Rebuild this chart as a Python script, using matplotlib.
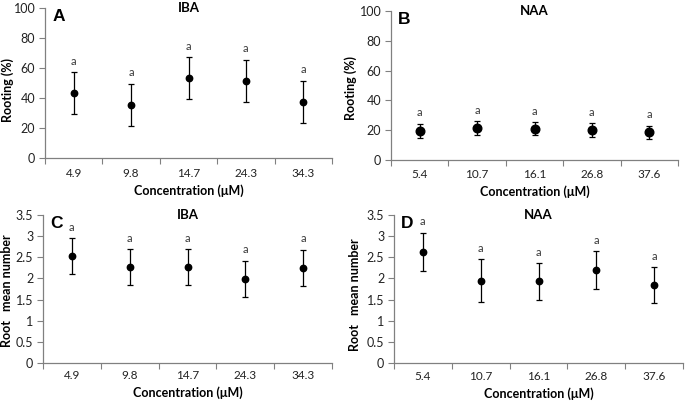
import matplotlib
matplotlib.use("Agg")
import matplotlib.pyplot as plt
import numpy as np

plt.rcParams['font.family'] = ['Lato', 'DejaVu Sans']

iba_conc = ["4.9", "9.8", "14.7", "24.3", "34.3"]
naa_conc = ["5.4", "10.7", "16.1", "26.8", "37.6"]

rooting_iba = [43, 35.5, 53, 51.5, 37.5]
rooting_iba_err = [14, 14, 14, 14, 14]
rooting_naa = [19.7, 21.5, 21, 20, 18.5]
rooting_naa_err = [4.7, 4.5, 4.5, 4.5, 4.5]

number_iba = [2.53, 2.27, 2.27, 1.99, 2.25]
number_iba_err = [0.43, 0.42, 0.42, 0.43, 0.43]
number_naa = [2.63, 1.95, 1.93, 2.20, 1.84]
number_naa_err = [0.45, 0.50, 0.43, 0.44, 0.43]

letters = ["a", "a", "a", "a", "a"]

W, H = 685, 403
fig = plt.figure(figsize=(W / 100, H / 100), dpi=100)

def px(l, r, t, b):
    return [l / W, 1 - b / H, (r - l) / W, (b - t) / H]

panels = [
    dict(rect=px(45, 332, 8, 158), cats=iba_conc, y=rooting_iba, e=rooting_iba_err,
         ylim=(0, 100), yt=np.arange(0, 101, 20), yl="Rooting (%)", title="IBA", tag="A",
         ms=4.6, xl="Concentration (\u03bcM)", ylx=-0.108, yly=0.45, xpad=7),
    dict(rect=px(391, 678, 11, 160), cats=naa_conc, y=rooting_naa, e=rooting_naa_err,
         ylim=(0, 100), yt=np.arange(0, 101, 20), yl="Rooting (%)", title="NAA", tag="B",
         ms=6.2, xl="Concentration (\u03bcM)", ylx=-0.118, yly=0.48, xpad=6.5),
    dict(rect=px(43, 332, 215, 363), cats=iba_conc, y=number_iba, e=number_iba_err,
         ylim=(0, 3.5), yt=np.arange(0, 3.51, 0.5), yl="Root   mean number", title="IBA", tag="C",
         ms=4.6, xl="Concentration (\u03bcM)", ylx=-0.104, yly=0.49, xpad=5),
    dict(rect=px(394, 683, 215, 363), cats=naa_conc, y=number_naa, e=number_naa_err,
         ylim=(0, 3.5), yt=np.arange(0, 3.51, 0.5), yl="Root   mean number", title="NAA", tag="D",
         ms=4.6, xl="Concentration (\u03bcM)", ylx=-0.114, yly=0.46, xpad=5.5),
]

spine_col = "#808080"
for p in panels:
    ax = fig.add_axes(p["rect"])
    x = np.arange(len(p["cats"]))
    ax.errorbar(x, p["y"], yerr=p["e"], fmt="o", color="black", ms=p["ms"],
                ecolor="black", elinewidth=0.9, capsize=2.4, capthick=0.9)
    for xi, yi, ei, lt in zip(x, p["y"], p["e"], letters):
        ax.annotate(lt, (xi, yi + ei), xytext=(0, 3.8), textcoords="offset points",
                    ha="center", va="bottom", fontsize=8, color="#3a3a3a")
    ax.set_xlim(-0.5, len(x) - 0.5)
    ax.set_ylim(*p["ylim"])
    ax.set_yticks(p["yt"])
    ax.set_yticklabels(["{:g}".format(round(v, 2)) for v in p["yt"]])
    ax.set_xticks(x)
    ax.set_xticklabels(p["cats"])
    ax.set_xticks(np.arange(-0.5, len(x), 1.0), minor=True)
    ax.tick_params(axis="x", which="major", length=0, pad=p["xpad"], labelsize=8.5,
                   colors="#222222")
    ax.tick_params(axis="x", which="minor", length=4, width=0.8, color=spine_col, direction="out")
    ax.tick_params(axis="y", length=4, width=0.8, color=spine_col, labelsize=9, pad=3,
                   colors="#222222")
    ax.tick_params(axis="y", color=spine_col)
    for s in ["top", "right"]:
        ax.spines[s].set_visible(False)
    for s in ["left", "bottom"]:
        ax.spines[s].set_color(spine_col)
        ax.spines[s].set_linewidth(0.9)
    ax.set_ylabel(p["yl"], fontsize=9, fontweight="bold")
    ax.yaxis.set_label_coords(p["ylx"], p["yly"])
    ax.set_xlabel(p["xl"], fontsize=9, fontweight="bold", labelpad=4)
    ax.text(0.5, 1.0, p["title"], transform=ax.transAxes, fontsize=9.5, fontweight="bold",
            ha="center", va="center")
    ax.text(0.025, 0.995, p["tag"], transform=ax.transAxes, fontsize=12.5, fontweight="bold",
            ha="left", va="top", family=["Liberation Sans", "DejaVu Sans"])

fig.savefig("out.png", dpi=100)
